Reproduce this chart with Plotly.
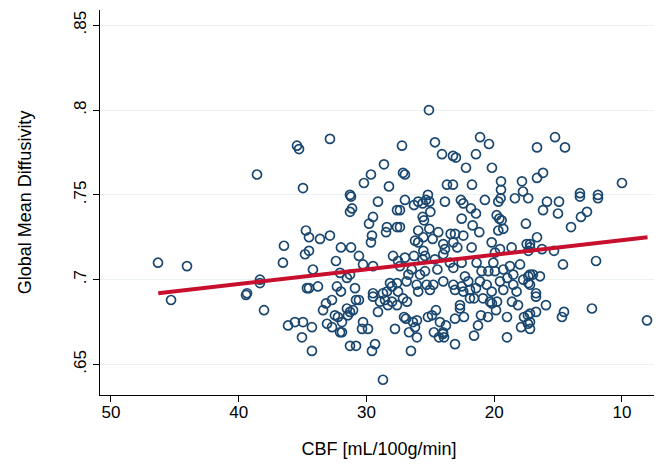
import plotly.graph_objects as go

cbf = [
25.11,27.22,24.64,24.09,23.23,23.0,21.11,20.41,21.43,22.21,20.18,27.14,26.99,23.70,23.23,21.74,19.47,17.83,19.47,17.75,25.19,
16.65,15.24,14.46,16.18,16.65,10.00,13.29,11.88,
35.44,35.28,32.86,34.97,28.63,29.65,30.20,28.24,31.29,
38.57,
46.32,44.05,38.34,38.34,39.35,
31.21,31.13,31.29,29.10,27.61,34.74,34.50,33.64,32.86,36.46,34.81,34.50,36.54,32.00,31.21,30.59,32.39,34.19,30.27,29.49,
29.80,29.49,28.40,28.47,27.61,29.57,29.65,27.92,27.53,32.07,31.29,31.53,34.66,34.50,33.80,32.31,32.00,30.90,29.49,
28.16,28.00,27.61,27.53,28.40,28.71,
15.87,14.93,13.29,11.88,16.18,15.01,12.74,13.21,13.99,16.65,17.20,17.20,16.26,15.32,14.62,12.03,17.20,16.97,16.42,17.20,16.73,
45.30,39.43,38.02,
36.14,35.60,34.97,34.27,35.05,34.27,33.40,33.17,32.70,33.09,32.70,32.47,32.23,31.92,32.07,31.92,31.53,31.29,31.05,31.45,
30.82,30.59,30.27,30.35,29.88,31.29,30.82,29.33,29.57,29.10,29.49,28.94,28.55,28.32,28.00,27.61,27.77,28.71,
27.14,26.83,27.06,26.91,26.36,26.05,26.20,26.67,26.05,26.52,25.19,24.87,24.56,24.25,23.78,24.72,24.33,24.01,24.01,23.93,
23.07,22.68,22.68,22.37,23.07,21.90,21.58,20.88,20.33,20.18,19.78,21.04,20.49,19.86,21.27,21.58,19.00,19.00,18.61,18.14,
17.90,17.67,17.36,17.36,
16.73,15.95,16.73,17.20,17.20,17.20,14.70,14.54,12.35,8.04,
26.99,26.28,25.95,25.60,25.34,25.08,23.86,22.61,22.42,21.82,21.43,20.73,19.68,19.50,18.38,17.34,
27.38,25.60,25.50,25.00,22.55,21.69,21.17,19.81,19.60,19.42,19.68,19.29,17.52,
27.38,25.95,25.08,24.38,25.55,24.82,26.20,25.95,23.99,23.41,23.07,22.42,23.20,22.89,23.86,23.99,25.55,25.42,25.60,26.99,
26.28,24.64,21.77,20.20,19.55,19.94,18.64,17.46,17.33,
27.38,26.46,26.72,25.81,25.42,24.45,23.46,23.20,22.55,21.38,20.07,20.99,20.46,19.94,19.29,18.77,17.98,
26.86,26.07,25.29,24.77,23.99,23.20,22.29,22.03,21.12,20.59,19.55,18.98,18.51,17.73,17.33,
25.95,25.03,23.07,22.55,22.42,21.90,21.43,20.20,19.29,18.51,18.25,17.33,
]

md = [
0.800,0.779,0.781,0.774,0.773,0.772,0.784,0.780,0.774,0.766,0.766,0.763,0.762,0.756,0.756,0.756,0.758,0.758,0.753,0.752,0.750,
0.778,0.784,0.778,0.763,0.760,0.757,0.751,0.750,
0.779,0.777,0.783,0.754,0.768,0.762,0.757,0.755,0.750,
0.762,
0.710,0.708,0.700,0.698,0.692,
0.749,0.742,0.740,0.746,0.741,0.729,0.725,0.724,0.726,0.720,0.715,0.717,0.710,0.719,0.719,0.714,0.711,0.706,0.709,0.708,
0.733,0.737,0.731,0.728,0.731,0.726,0.722,0.714,0.711,0.704,0.703,0.701,0.695,0.695,0.696,0.696,0.693,0.695,0.692,
0.698,0.696,0.698,0.693,0.693,0.692,
0.746,0.746,0.749,0.748,0.741,0.739,0.740,0.737,0.731,0.725,0.721,0.719,0.718,0.717,0.709,0.711,0.703,0.703,0.702,0.697,0.692,
0.688,0.691,0.682,
0.673,0.675,0.675,0.672,0.666,0.658,0.682,0.686,0.688,0.674,0.672,0.679,0.678,0.675,0.669,0.669,0.683,0.681,0.682,0.679,
0.688,0.688,0.675,0.671,0.671,0.661,0.661,0.662,0.658,0.681,0.690,0.687,0.688,0.685,0.687,0.685,0.671,0.641,
0.689,0.687,0.678,0.677,0.675,0.676,0.672,0.669,0.666,0.658,0.678,0.679,0.682,0.675,0.673,0.669,0.666,0.668,0.669,0.666,
0.677,0.685,0.683,0.678,0.662,0.689,0.689,0.689,0.687,0.686,0.687,0.679,0.678,0.682,0.673,0.667,0.678,0.666,0.687,0.685,
0.672,0.678,0.679,0.674,
0.690,0.685,0.681,0.680,0.675,0.671,0.678,0.681,0.683,0.676,
0.747,0.744,0.746,0.745,0.747,0.746,0.746,0.747,0.745,0.742,0.739,0.747,0.746,0.748,0.748,0.748,
0.741,0.737,0.735,0.740,0.736,0.732,0.728,0.738,0.736,0.735,0.729,0.730,0.733,
0.731,0.729,0.730,0.728,0.725,0.724,0.723,0.722,0.721,0.727,0.727,0.726,0.722,0.719,0.718,0.715,0.717,0.714,0.712,0.713,
0.714,0.712,0.719,0.722,0.718,0.716,0.719,0.721,0.717,
0.708,0.706,0.703,0.703,0.705,0.706,0.710,0.707,0.710,0.710,0.710,0.705,0.705,0.705,0.706,0.708,0.709,
0.699,0.697,0.697,0.697,0.699,0.697,0.702,0.699,0.699,0.697,0.699,0.701,0.703,0.700,0.702,
0.693,0.694,0.694,0.696,0.693,0.694,0.695,0.693,0.694,0.697,0.693,0.698,
]

fit_x = [46.3, 8.0]
fit_y = [0.692, 0.725]

x_ticks = [50, 40, 30, 20, 10]
y_ticks = [0.65, 0.70, 0.75, 0.80, 0.85]
y_labels = [".65", ".7", ".75", ".8", ".85"]

fig = go.Figure()
fig.add_trace(go.Scatter(
    x=cbf, y=md, mode="markers",
    marker=dict(symbol="circle-open", size=9, color="#1a476f", line=dict(width=1.7, color="#1a476f")),
    showlegend=False, hoverinfo="skip"))
fig.add_trace(go.Scatter(
    x=fit_x, y=fit_y, mode="lines",
    line=dict(color="#c8102e", width=4),
    showlegend=False, hoverinfo="skip"))

font_family = "Liberation Sans, Arial, Helvetica, sans-serif"
# the page body adds an 8px offset, so the figure is 8px smaller and margins shifted
fig.update_layout(
    width=654, height=456,
    margin=dict(l=92, r=4, t=2, b=69),
    paper_bgcolor="white", plot_bgcolor="white",
    font=dict(family=font_family, size=17, color="black"),
)
fig.update_xaxes(
    range=[50.86, 7.18], tickvals=x_ticks, ticktext=[str(v) for v in x_ticks],
    showline=True, linecolor="black", linewidth=1,
    ticks="outside", ticklen=6, tickcolor="black", automargin=False,
    ticklabelstandoff=-4,
    showgrid=False, zeroline=False,
    title=dict(text="CBF [mL/100g/min]", font=dict(size=18), standoff=20),
)
fig.update_yaxes(
    range=[0.632, 0.859], tickvals=y_ticks, ticktext=y_labels, tickangle=-90,
    showline=True, linecolor="black", linewidth=1,
    ticks="outside", ticklen=6, tickcolor="black", automargin=False,
    ticklabelstandoff=0,
    showgrid=True, gridcolor="#eaf2f3", gridwidth=1, zeroline=False,
    title=dict(text="Global Mean Diffusivity", font=dict(size=18), standoff=34),
)
fig.write_html("out.html")
